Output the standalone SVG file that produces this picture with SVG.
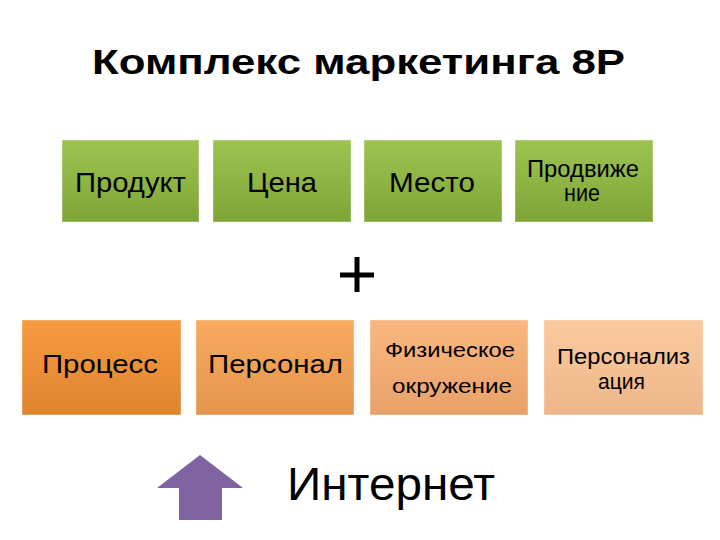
<svg xmlns="http://www.w3.org/2000/svg" width="720" height="540" viewBox="0 0 720 540">
<defs>
<linearGradient id="gG" x1="0" y1="0" x2="0" y2="1"><stop offset="0" stop-color="#9dc451"/><stop offset="1" stop-color="#7fa437"/></linearGradient>
<linearGradient id="gO1" x1="0" y1="0" x2="0" y2="1"><stop offset="0" stop-color="#f89b42"/><stop offset="1" stop-color="#de842f"/></linearGradient>
<linearGradient id="gO2" x1="0" y1="0" x2="0" y2="1"><stop offset="0" stop-color="#f9aa5f"/><stop offset="1" stop-color="#e3964c"/></linearGradient>
<linearGradient id="gO3" x1="0" y1="0" x2="0" y2="1"><stop offset="0" stop-color="#fab77f"/><stop offset="1" stop-color="#e7a26a"/></linearGradient>
<linearGradient id="gO4" x1="0" y1="0" x2="0" y2="1"><stop offset="0" stop-color="#fcca9f"/><stop offset="1" stop-color="#ecb689"/></linearGradient>
</defs>
<style>
text{font-family:"Liberation Sans",Arial,sans-serif;fill:#000;text-anchor:middle}
.t{font-size:35px;font-weight:bold}
.b{font-size:28px}
.o{font-size:26px}
.s{font-size:23px}
.p{font-size:22px}
.f{font-size:21px}
.box{stroke:#ffffff;stroke-opacity:0.4;stroke-width:1}
</style>
<rect width="720" height="540" fill="#fff"/>
<text class="t" x="358.5" y="74" textLength="533" lengthAdjust="spacingAndGlyphs">Комплекс маркетинга 8P</text>
<g id="produkt"><rect class="box" x="62" y="140" width="137" height="82" fill="url(#gG)"/><text class="b" x="130.5" y="192" textLength="111" lengthAdjust="spacingAndGlyphs">Продукт</text></g>
<g id="tsena"><rect class="box" x="213" y="140" width="138" height="82" fill="url(#gG)"/><text class="b" x="282" y="192" textLength="70" lengthAdjust="spacingAndGlyphs">Цена</text></g>
<g id="mesto"><rect class="box" x="364" y="140" width="138" height="82" fill="url(#gG)"/><text class="b" x="432" y="192" textLength="86" lengthAdjust="spacingAndGlyphs">Место</text></g>
<g id="prodvizhenie"><rect class="box" x="515" y="140" width="138" height="82" fill="url(#gG)"/><text class="s" x="583" y="177" textLength="112" lengthAdjust="spacingAndGlyphs">Продвиже</text><text class="s" x="582" y="201" textLength="36" lengthAdjust="spacingAndGlyphs">ние</text></g>
<g id="plus"><path d="M357 257V292M340 275H374" stroke="#000" stroke-width="5" fill="none"/></g>
<g id="protsess"><rect class="box" x="22" y="320" width="159" height="95" fill="url(#gO1)"/><text class="o" x="100" y="373" textLength="116" lengthAdjust="spacingAndGlyphs">Процесс</text></g>
<g id="personal"><rect class="box" x="196" y="320" width="158" height="95" fill="url(#gO2)"/><text class="o" x="275.5" y="373" textLength="135" lengthAdjust="spacingAndGlyphs">Персонал</text></g>
<g id="fizicheskoe"><rect class="box" x="370" y="320" width="158" height="95" fill="url(#gO3)"/><text class="f" x="450" y="357" textLength="130" lengthAdjust="spacingAndGlyphs">Физическое</text><text class="f" x="452" y="393" textLength="120" lengthAdjust="spacingAndGlyphs">окружение</text></g>
<g id="personalizatsiya"><rect class="box" x="544" y="320" width="159" height="95" fill="url(#gO4)"/><text class="p" x="623.5" y="364" textLength="133" lengthAdjust="spacingAndGlyphs">Персонализ</text><text class="p" x="621.5" y="389" textLength="47" lengthAdjust="spacingAndGlyphs">ация</text></g>
<g id="connectors"><path d="M200 455L243 488H222V520H179V488H157Z" fill="#8064a2"/></g>
<g id="internet"><text x="391" y="500" style="font-size:46px" textLength="208" lengthAdjust="spacingAndGlyphs">Интернет</text></g>
</svg>
